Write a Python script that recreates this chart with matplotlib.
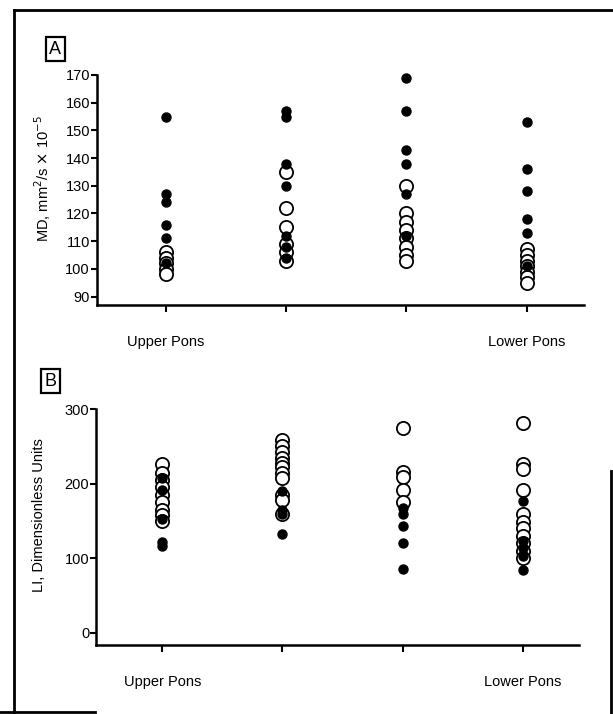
import matplotlib
matplotlib.use("Agg")
import matplotlib.pyplot as plt
from matplotlib.lines import Line2D

plt.rcParams['font.family'] = ['Liberation Sans', 'DejaVu Sans']

# positions along the pons (1 = upper, 4 = lower)
levels = [1, 2, 3, 4]
level_labels = ['Upper Pons', '', '', 'Lower Pons']

# panel A: MD, open = controls, filled = patients
md_open = [
    [106, 104, 102, 100, 98],
    [135, 122, 115, 109, 106, 103],
    [130, 120, 117, 114, 111, 108, 105, 103],
    [107, 105, 103, 101, 99, 97, 95],
]
md_filled = [
    [155, 127, 124, 116, 111, 102],
    [157, 155, 138, 130, 112, 108, 104],
    [169, 157, 143, 138, 127, 112],
    [153, 136, 128, 118, 113, 101],
]

# panel B: LI
li_open = [
    [226, 215, 205, 195, 185, 175, 165, 158, 150],
    [258, 250, 243, 235, 228, 222, 215, 208, 185, 178, 160],
    [275, 216, 209, 192, 176],
    [282, 226, 220, 191, 160, 148, 140, 130, 120, 110, 100],
]
li_filled = [
    [207, 192, 152, 122, 116],
    [190, 165, 160, 132],
    [167, 160, 143, 121, 85],
    [177, 123, 114, 103, 84],
]


def draw_panel(ax, open_vals, filled_vals):
    for lv, vals in zip(levels, open_vals):
        ax.plot([lv] * len(vals), vals, 'o', ms=9.5, mfc='white', mec='black',
                mew=1.3, ls='none', clip_on=False)
    for lv, vals in zip(levels, filled_vals):
        ax.plot([lv] * len(vals), vals, 'o', ms=6.5, mfc='black', mec='black',
                ls='none', clip_on=False)
    ax.spines['top'].set_visible(False)
    ax.spines['right'].set_visible(False)
    ax.spines['left'].set_linewidth(1.8)
    ax.spines['bottom'].set_linewidth(1.8)
    ax.set_xticks(levels)
    ax.set_xticklabels(level_labels, fontsize=10.5)
    ax.tick_params(axis='x', direction='out', length=5, width=1.5, pad=17)
    ax.tick_params(axis='y', direction='out', length=4, width=1.5, labelsize=10.5, pad=1)


fig = plt.figure(figsize=(6.13, 7.14), dpi=100)

axA = fig.add_axes([0.158, 0.573, 0.794, 0.322])
draw_panel(axA, md_open, md_filled)
axA.set_xlim(0.43, 4.47)
axA.set_ylim(87, 170)
axA.set_yticks(range(90, 171, 10))
axA.set_ylabel(r'MD, mm$^2$/s $\times$ 10$^{-5}$', fontsize=10.5)
axA.yaxis.set_label_coords(-0.09, 0.55)

axB = fig.add_axes([0.157, 0.097, 0.788, 0.330])
draw_panel(axB, li_open, li_filled)
axB.set_xlim(0.45, 4.47)
axB.set_ylim(-16, 300)
axB.set_yticks([0, 100, 200, 300])
axB.set_ylabel('LI, Dimensionless Units', fontsize=10.5)
axB.yaxis.set_label_coords(-0.105, 0.55)

# boxed panel letters
box = dict(boxstyle='square,pad=0.2', fc='white', ec='black', lw=1.6)
fig.text(0.09, 0.931, 'A', fontsize=13, ha='center', va='center', bbox=box)
fig.text(0.083, 0.466, 'B', fontsize=13, ha='center', va='center', bbox=box)

# scanned page frame
frame = [
    ([0.023, 0.023], [0.0, 0.986]),
    ([0.023, 1.0], [0.986, 0.986]),
    ([0.997, 0.997], [0.0, 0.34]),
    ([0.0, 0.155], [0.003, 0.003]),
]
for xs, ys in frame:
    fig.add_artist(Line2D(xs, ys, transform=fig.transFigure, color='black', lw=2))

fig.savefig('out.png', dpi=100)
